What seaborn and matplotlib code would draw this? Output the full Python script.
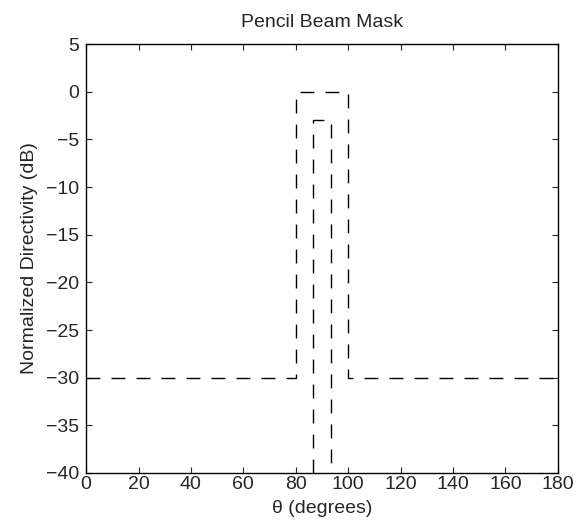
import pandas as pd
import matplotlib
matplotlib.use("Agg")
import matplotlib.pyplot as plt
import seaborn as sns

# mask data (theta in degrees, normalized directivity in dB)
upper_theta = [0, 80, 80, 100, 100, 180]
upper_db = [-30, -30, 0, 0, -30, -30]
lower_theta = [86.7, 86.7, 93.5, 93.5]
lower_db = [-40, -3, -3, -40]

x_ticks = [0, 20, 40, 60, 80, 100, 120, 140, 160, 180]
y_ticks = [5, 0, -5, -10, -15, -20, -25, -30, -35, -40]

sns.set_style("ticks")
plt.rcParams['font.family'] = ['Liberation Sans', 'DejaVu Sans']
plt.rcParams['xtick.direction'] = 'in'
plt.rcParams['ytick.direction'] = 'in'

upper = pd.DataFrame({'theta': upper_theta, 'db': upper_db})
lower = pd.DataFrame({'theta': lower_theta, 'db': lower_db})

fig = plt.figure(figsize=(5.78, 5.32), dpi=100)
ax = fig.add_axes([0.149, 0.111, 0.816, 0.806])

for df in (upper, lower):
    sns.lineplot(data=df, x='theta', y='db', sort=False, estimator=None,
                 color='black', linewidth=1.0, dashes=False, ax=ax)
for line in ax.get_lines():
    line.set_dashes((10, 8))

ax.set_xlim(0, 180)
ax.set_ylim(-40, 5)
ax.set_xticks(x_ticks)
ax.set_yticks(y_ticks)
ax.tick_params(labelsize=14, length=4, width=0.8, top=True, right=True)
ax.tick_params(axis='x', pad=2)
ax.tick_params(axis='y', pad=5)
for s in ax.spines.values():
    s.set_visible(True)
    s.set_linewidth(1.0)
    s.set_color('black')

ax.set_title('Pencil Beam Mask', fontsize=14, pad=12)
ax.set_xlabel('θ (degrees)', fontsize=14, labelpad=5)
ax.set_ylabel('Normalized Directivity (dB)', fontsize=14, labelpad=6)

fig.savefig('out.png', dpi=100)
